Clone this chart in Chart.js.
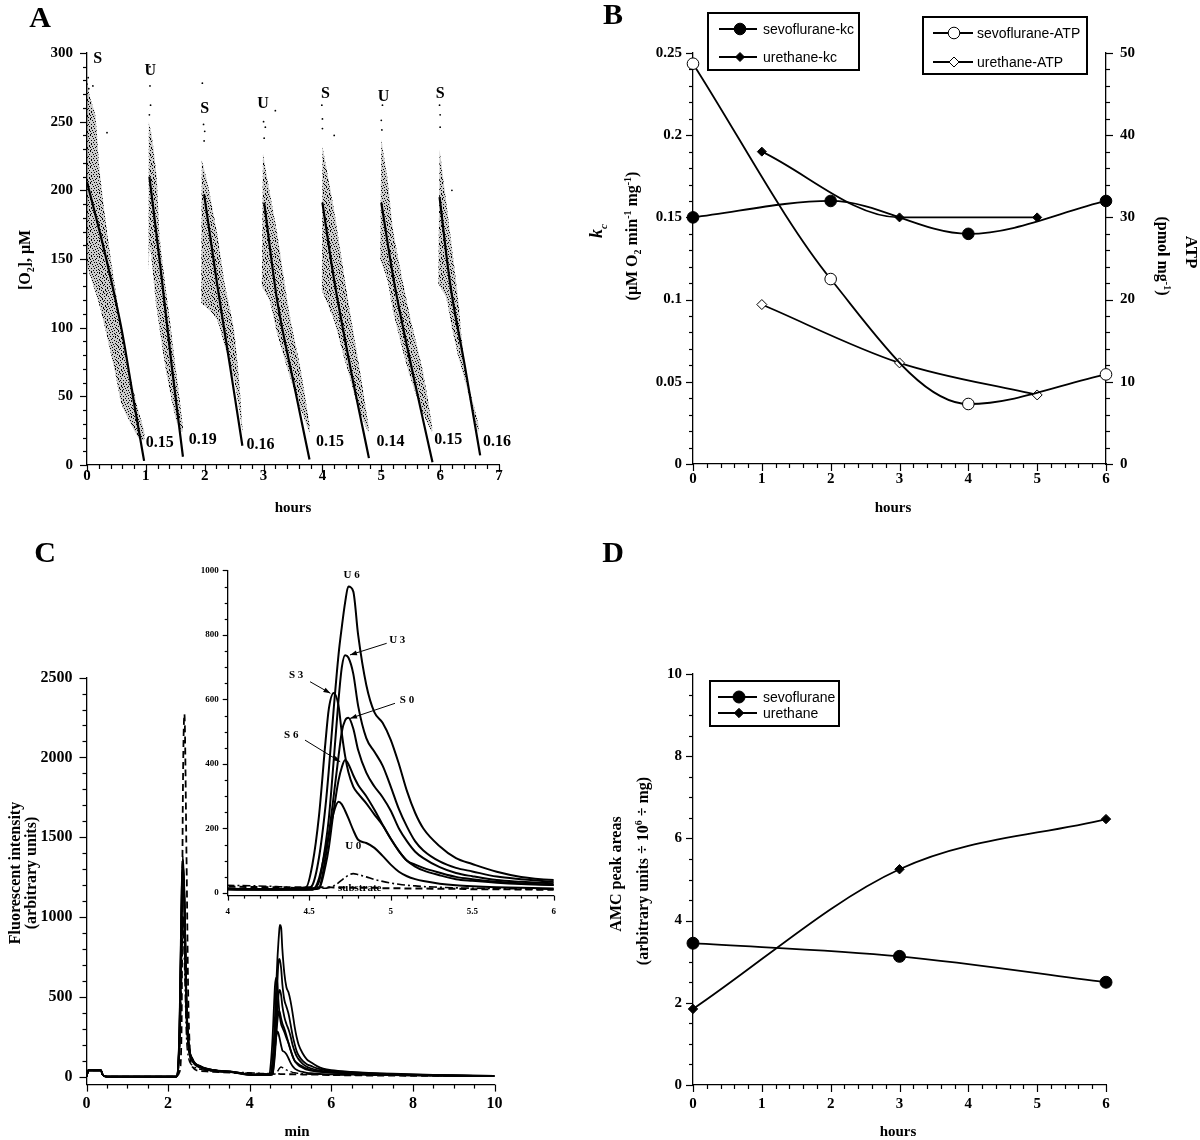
<!DOCTYPE html>
<html>
<head>
<meta charset="utf-8">
<title>Oxygen consumption, ATP and AMC release</title>
<script src="https://cdn.jsdelivr.net/npm/chart.js@4.4.1/dist/chart.umd.min.js"></script>
<style>
  html, body { margin: 0; padding: 0; background: #fff; }
  #page { position: relative; width: 1200px; height: 1140px; overflow: hidden; background: #fff; }
  #page canvas { position: absolute; left: 0; top: 0; }
  .t { position: absolute; white-space: nowrap; font-family: "Liberation Serif", "Times New Roman", serif;
       font-weight: bold; color: #000; line-height: 1; transform: translate(-50%, -50%); }
  .t.up { transform: translate(-50%, -50%) rotate(-90deg); }
  .t.down { transform: translate(-50%, -50%) rotate(90deg); }
  .t sub, .t sup { font-size: 62%; line-height: 0; }
  .letter { font-size: 30px; }
</style>
</head>
<body>
<div id="page">
  <canvas id="chartA" width="1200" height="1140"></canvas>
  <canvas id="chartB" width="1200" height="1140"></canvas>
  <canvas id="chartC" width="1200" height="1140"></canvas>
  <canvas id="chartInset" width="1200" height="1140"></canvas>
  <canvas id="chartD" width="1200" height="1140"></canvas>

  <div class="t letter" style="left:40px;top:17px">A</div>
  <div class="t up" style="left:25px;top:260px;font-size:16px">[O<sub>2</sub>], μM</div>
  <div class="t" style="left:293px;top:507px;font-size:15px">hours</div>

  <div class="t letter" style="left:613px;top:14px">B</div>
  <div class="t up" style="left:596px;top:231px;font-size:18px"><i>k<sub>c</sub></i></div>
  <div class="t up" style="left:632px;top:236px;font-size:16px">(μM O<sub>2</sub> min<sup>-1</sup> mg<sup>-1</sup>)</div>
  <div class="t down" style="left:1191px;top:252px;font-size:17px">ATP</div>
  <div class="t down" style="left:1163px;top:256px;font-size:16px">(pmol mg<sup>-1</sup>)</div>
  <div class="t" style="left:893px;top:507px;font-size:15px">hours</div>

  <div class="t letter" style="left:45px;top:552px">C</div>
  <div class="t up" style="left:15px;top:873px;font-size:16px">Fluorescent intensity</div>
  <div class="t up" style="left:31px;top:873px;font-size:16px">(arbitrary units)</div>
  <div class="t" style="left:297px;top:1131px;font-size:15px">min</div>

  <div class="t letter" style="left:613px;top:552px">D</div>
  <div class="t up" style="left:616px;top:874px;font-size:16px">AMC peak areas</div>
  <div class="t up" style="left:643px;top:871px;font-size:16px">(arbitrary units ÷ 10<sup>6</sup> ÷ mg)</div>
  <div class="t" style="left:898px;top:1131px;font-size:15px">hours</div>
</div>

<script>
// ---------- panel A: O2 traces, one run per hour ----------
const runLetters = ['S', 'U', 'S', 'U', 'S', 'U', 'S'];
const runLetterPos = [[0.18, 296], [1.075, 287], [2.0, 259], [2.99, 263], [4.05, 270], [5.04, 268], [6.0, 270]];
const rateLabels = ['0.15', '0.19', '0.16', '0.15', '0.14', '0.15', '0.16'];
const rateLabelPos = [[1.0, 16], [1.73, 18], [2.71, 15], [3.89, 17], [4.92, 17], [5.9, 18], [6.73, 17]];

const fitLines = [
  [[0, 206], [0.3, 155], [0.6, 96], [0.8, 45], [0.97, 3]],
  [[1.06, 210], [1.245, 145], [1.44, 72], [1.63, 6]],
  [[1.99, 197], [2.21, 132], [2.43, 72], [2.64, 14]],
  [[3.01, 191], [3.23, 120], [3.51, 60], [3.78, 4]],
  [[4.0, 191], [4.19, 137], [4.47, 72], [4.79, 5]],
  [[5.0, 191], [5.21, 135], [5.55, 64], [5.87, 2]],
  [[5.99, 195], [6.17, 132], [6.42, 72], [6.68, 7]]
];
const cloudTop = [
  [[0, 280], [0.05, 268], [0.14, 255], [0.22, 212], [0.36, 164], [0.53, 115], [0.73, 67], [0.84, 45], [0.97, 25]],
  [[1.05, 250], [1.1, 240], [1.18, 212], [1.24, 164], [1.38, 115], [1.52, 67], [1.63, 28]],
  [[1.95, 222], [2.05, 205], [2.21, 169], [2.35, 130], [2.49, 101], [2.58, 65], [2.64, 28]],
  [[2.99, 227], [3.1, 200], [3.23, 169], [3.45, 108], [3.62, 72], [3.78, 30]],
  [[4.0, 232], [4.19, 188], [4.41, 127], [4.61, 76], [4.78, 30]],
  [[5.0, 237], [5.1, 210], [5.21, 169], [5.49, 108], [5.69, 72], [5.86, 30]],
  [[5.99, 230], [6.08, 200], [6.17, 169], [6.31, 120], [6.36, 95], [6.45, 64], [6.65, 30]]
];
const cloudBottom = [
  [[0, 145], [0.22, 115], [0.48, 67], [0.59, 44], [0.87, 20], [0.97, 18]],
  [[1.045, 140], [1.07, 160], [1.18, 115], [1.35, 67], [1.52, 32], [1.62, 24]],
  [[1.94, 118], [2.1, 112], [2.21, 106], [2.35, 85], [2.49, 64], [2.58, 42], [2.64, 24]],
  [[2.97, 130], [3.1, 120], [3.23, 96], [3.45, 64], [3.62, 42], [3.78, 24]],
  [[3.99, 127], [4.19, 106], [4.41, 72], [4.61, 42], [4.78, 24]],
  [[4.98, 150], [5.1, 135], [5.21, 110], [5.49, 64], [5.69, 40], [5.86, 24]],
  [[5.97, 132], [6.1, 122], [6.2, 100], [6.31, 79], [6.45, 57], [6.65, 24]]
];
const strayPoints = [
  [0.02, 282], [0.03, 274], [0.1, 276], [0.34, 242], [1.07, 290], [1.07, 276], [1.08, 262], [1.06, 255],
  [1.96, 278], [1.98, 248], [2.0, 243], [1.99, 236], [3.0, 250], [3.03, 246], [3.2, 258], [3.01, 238],
  [3.99, 262], [4.0, 252], [4.2, 240], [4.0, 245], [5.0, 251], [5.02, 262], [5.01, 244],
  [5.99, 262], [6.0, 255], [6.2, 200], [6.0, 246]
];

// ---------- panel B: kc and ATP ----------
const sevoKcHours = [0, 2, 4, 6];
const sevoKc = [0.15, 0.16, 0.14, 0.16];
const urethKcHours = [1, 3, 5];
const urethKc = [0.19, 0.15, 0.15];
const sevoAtpHours = [0, 2, 4, 6];
const sevoAtp = [48.7, 22.5, 7.3, 10.9];
const urethAtpHours = [1, 3, 5];
const urethAtp = [19.4, 12.3, 8.4];

// ---------- panel C: HPLC fluorescence traces ----------
const minutes = [0, 0.05, 0.35, 0.4, 0.5, 2.2, 2.28, 2.33, 2.36, 2.4, 2.45, 2.5, 2.6, 2.8, 3.1, 3.6, 4.0, 4.3,
  4.48, 4.52, 4.56, 4.6, 4.62, 4.65, 4.68, 4.7, 4.72, 4.74, 4.77, 4.8, 4.85, 4.9, 4.95, 5.0, 5.05, 5.1, 5.15, 5.2, 5.3, 5.4, 5.5, 5.65, 5.8, 6.0,
  6.5, 7.5, 8.5, 10];
const traceS0 = [0, 40, 40, 10, 0, 0, 300, 1100, 1380, 1150, 480, 220, 110, 65, 42, 30, 14, 12,
  12, 12, 16, 110, 180, 300, 425, 500, 535, 543, 510, 443, 373, 330, 297, 255, 200, 160, 128, 108, 80, 62, 52, 40, 35, 30,
  23, 14, 8, 4];
const traceS3 = [0, 40, 40, 10, 0, 0, 320, 1150, 1360, 1100, 450, 210, 105, 62, 40, 28, 13, 12,
  18, 90, 240, 470, 570, 620, 580, 495, 425, 375, 330, 308, 278, 243, 210, 168, 130, 100, 88, 78, 63, 50, 43, 35, 30, 25,
  20, 13, 8, 4];
const traceS6 = [0, 40, 40, 10, 0, 0, 250, 950, 1300, 1050, 420, 200, 100, 60, 38, 27, 12, 11,
  12, 12, 14, 85, 140, 255, 350, 390, 412, 400, 365, 335, 300, 258, 212, 168, 130, 100, 82, 70, 55, 43, 38, 32, 28, 25,
  20, 13, 8, 4];
const traceU0 = [0, 40, 40, 10, 0, 0, 200, 800, 1000, 900, 380, 180, 95, 55, 36, 26, 11, 10,
  10, 10, 45, 135, 180, 250, 283, 275, 255, 232, 195, 165, 155, 140, 115, 88, 66, 52, 43, 37, 29, 24, 21, 18, 16, 14,
  12, 9, 6, 3];
const traceU3 = [0, 40, 40, 10, 0, 0, 280, 1050, 1340, 1120, 460, 215, 108, 64, 41, 29, 13, 12,
  12, 14, 35, 150, 230, 410, 600, 700, 737, 730, 680, 580, 480, 438, 395, 330, 260, 205, 160, 132, 98, 78, 67, 51, 43, 35,
  26, 16, 9, 4];
const traceU6 = [0, 40, 40, 10, 0, 0, 260, 1000, 1250, 1080, 440, 205, 102, 62, 40, 28, 13, 12,
  12, 25, 110, 270, 380, 570, 740, 825, 900, 950, 935, 800, 645, 560, 528, 475, 400, 315, 248, 200, 145, 108, 90, 66, 50, 40,
  30, 18, 10, 4];
const traceSubstrate = [0, 40, 40, 10, 0, 0, 150, 600, 950, 700, 250, 120, 70, 45, 35, 28, 24, 20,
  15, 15, 15, 15, 17, 22, 32, 40, 48, 55, 60, 57, 50, 42, 36, 31, 27, 24, 22, 20, 18, 16, 15, 14, 13, 12,
  10, 8, 6, 4];
const traceBlank = [0, 40, 40, 10, 0, 0, 30, 300, 1700, 2270, 1400, 420, 60, 35, 30, 24, 20, 18,
  18, 18, 18, 18, 18, 17, 17, 17, 17, 16, 16, 16, 16, 16, 15, 15, 15, 14, 14, 14, 13, 13, 12, 12, 11, 10,
  8, 6, 5, 4];
const insetLabels = ['U 6', 'U 3', 'S 3', 'S 0', 'S 6', 'U 0', 'substrate'];
const insetLabelPos = [[4.76, 985], [5.04, 784], [4.42, 676], [5.1, 598], [4.39, 490], [4.77, 144], [4.81, 14]];
const insetArrows = [
  [[4.975, 774], [4.75, 738]],
  [[4.505, 655], [4.63, 619]],
  [[5.026, 588], [4.75, 541]],
  [[4.474, 474], [4.69, 407]]
];

// ---------- panel D: AMC peak areas ----------
const amcHours = [0, 3, 6];
const sevoAmc = [3.45, 3.13, 2.5];
const urethAmc = [1.85, 5.25, 6.47];

// ---------- helpers ----------
const SERIF = '"Liberation Serif", "Times New Roman", serif';
const SANS = '"Liberation Sans", Arial, sans-serif';

Chart.defaults.animation = false;
Chart.defaults.responsive = false;
Chart.defaults.events = [];
Chart.defaults.color = '#000';
Chart.defaults.font.family = SERIF;
Chart.defaults.plugins.legend.display = false;
Chart.defaults.plugins.tooltip.enabled = false;

function pts(xs, ys) { return xs.map((x, i) => ({x: x, y: ys[i]})); }
function pairs(list) { return list.map(p => ({x: p[0], y: p[1]})); }

function linAxis(o) {
  return {
    type: 'linear',
    position: o.position,
    min: o.min,
    max: o.max,
    afterFit: s => { if (s.isHorizontal()) s.height = o.size; else s.width = o.size; },
    // labelled ticks only at the major steps inside [min, max]
    afterBuildTicks: s => {
      const list = [];
      const k0 = Math.ceil(o.min / o.step - 1e-9), k1 = Math.floor(o.max / o.step + 1e-9);
      for (let k = k0; k <= k1; k++) list.push({value: Math.round(k * o.step * 1e6) / 1e6});
      s.ticks = list;
    },
    border: {display: true, color: '#000', width: 1.3},
    grid: {display: true, drawOnChartArea: false, drawTicks: true, tickLength: o.tl, tickColor: 'rgba(0,0,0,0)'},
    ticks: {
      autoSkip: false, maxRotation: 0, minRotation: 0,
      padding: o.pad, color: '#000', font: {family: SERIF, size: o.font, weight: 'bold'},
      callback: v => String(v)
    }
  };
}

// padding that puts the plot area at fixed page coordinates
function place(left, top, right, bottom, yW, xH, y2W) {
  return {left: left - yW, top: top, right: 1200 - right - (y2W || 0), bottom: 1140 - bottom - xH};
}

function drawMarker(ctx, style, r, x, y, fill, bw) {
  ctx.beginPath();
  if (style === 'circle') {
    ctx.arc(x, y, r, 0, Math.PI * 2);
  } else {
    ctx.moveTo(x - r, y); ctx.lineTo(x, y - r); ctx.lineTo(x + r, y); ctx.lineTo(x, y + r); ctx.closePath();
  }
  ctx.fillStyle = fill;
  ctx.fill();
  if (bw) { ctx.lineWidth = bw; ctx.strokeStyle = '#000'; ctx.stroke(); }
}

// minor/major tick marks, legends, labels and arrows
function extras(cfg) {
  return {
    id: 'extras',
    afterDraw(chart) {
      const ctx = chart.ctx, area = chart.chartArea;
      ctx.save();
      ctx.strokeStyle = '#000';
      (cfg.ticks || []).forEach(t => {
        const s = chart.scales[t.axis];
        ctx.lineWidth = 1.2;
        const k0 = Math.ceil(s.min / t.minor - 1e-6), k1 = Math.floor(s.max / t.minor + 1e-6);
        for (let k = k0; k <= k1; k++) {
          const v = k * t.minor;
          const major = Math.abs(v / t.major - Math.round(v / t.major)) < 1e-6;
          const len = major ? t.len[0] : t.len[1];
          const p = Math.round(s.getPixelForValue(v)) + 0.5;
          ctx.beginPath();
          if (t.side === 'bottom') { ctx.moveTo(p, area.bottom); ctx.lineTo(p, area.bottom + len); }
          else if (t.side === 'left') { ctx.moveTo(area.left, p); ctx.lineTo(area.left - len, p); }
          else { ctx.moveTo(area.right, p); ctx.lineTo(area.right + len, p); }
          ctx.stroke();
        }
      });

      (cfg.legends || []).forEach(lg => {
        ctx.lineWidth = 2;
        ctx.strokeStyle = '#000';
        ctx.strokeRect(lg.box[0], lg.box[1], lg.box[2] - lg.box[0], lg.box[3] - lg.box[1]);
        lg.rows.forEach(row => {
          const ds = chart.data.datasets[row[0]], y = row[1];
          ctx.lineWidth = ds.borderWidth;
          ctx.strokeStyle = '#000';
          ctx.beginPath(); ctx.moveTo(lg.x1, y); ctx.lineTo(lg.x2, y); ctx.stroke();
          drawMarker(ctx, ds.pointStyle, ds.pointRadius, lg.mx, y, ds.pointBackgroundColor, ds.pointBorderWidth);
          ctx.font = lg.font;
          ctx.fillStyle = '#000';
          ctx.textAlign = 'left';
          ctx.textBaseline = 'middle';
          ctx.fillText(ds.label, lg.tx, y + 1);
        });
      });

      const xs = chart.scales.x, ys = chart.scales.y;
      (cfg.arrows || []).forEach(a => {
        const x0 = xs.getPixelForValue(a[0][0]), y0 = ys.getPixelForValue(a[0][1]);
        const x1 = xs.getPixelForValue(a[1][0]), y1 = ys.getPixelForValue(a[1][1]);
        const ang = Math.atan2(y1 - y0, x1 - x0);
        ctx.lineWidth = 1;
        ctx.strokeStyle = '#000';
        ctx.beginPath(); ctx.moveTo(x0, y0); ctx.lineTo(x1, y1); ctx.stroke();
        ctx.fillStyle = '#000';
        ctx.beginPath();
        ctx.moveTo(x1, y1);
        ctx.lineTo(x1 - 7 * Math.cos(ang) + 2.5 * Math.sin(ang), y1 - 7 * Math.sin(ang) - 2.5 * Math.cos(ang));
        ctx.lineTo(x1 - 7 * Math.cos(ang) - 2.5 * Math.sin(ang), y1 - 7 * Math.sin(ang) + 2.5 * Math.cos(ang));
        ctx.closePath();
        ctx.fill();
      });

      (cfg.texts || []).forEach(t => {
        ctx.font = t.font;
        ctx.fillStyle = '#000';
        ctx.textAlign = t.align || 'center';
        ctx.textBaseline = 'middle';
        ctx.fillText(t.text, xs.getPixelForValue(t.x), ys.getPixelForValue(t.y));
      });
      ctx.restore();
    }
  };
}

// speckled texture for the dense O2 readings (fixed, hand-placed dots)
const speckRows = [
  [1, 6, 11, 14, 3], [3, 9], [0, 5, 12, 9], [7, 10, 15], [2, 13, 7], [4, 8, 11], [0, 6, 14, 10],
  [3, 10], [1, 8, 12, 4], [5, 15], [2, 9, 13, 6], [0, 6], [4, 11, 14, 8], [7, 2], [9, 13, 0, 3], [5, 11]
];
function speckle(canvas) {
  const tile = document.createElement('canvas');
  tile.width = 16; tile.height = 16;
  const g = tile.getContext('2d');
  g.fillStyle = 'rgba(0,0,0,0.2)';
  g.fillRect(0, 0, 16, 16);
  g.fillStyle = '#000';
  speckRows.forEach((row, y) => row.forEach(x => g.fillRect(x, y, 1, 1)));
  return canvas.getContext('2d').createPattern(tile, 'repeat');
}

// ---------- chart A ----------
const canvasA = document.getElementById('chartA');
const speck = speckle(canvasA);
const aDatasets = [];
fitLines.forEach(line => aDatasets.push({
  data: pairs(line), showLine: true, borderColor: '#000', borderWidth: 2.2,
  pointRadius: 0, cubicInterpolationMode: 'monotone'
}));
aDatasets.push({data: pairs(strayPoints), showLine: false, pointRadius: 0.9, pointBackgroundColor: '#000', pointBorderWidth: 0});
cloudTop.forEach((top, i) => aDatasets.push({
  data: pairs(top.concat(cloudBottom[i].slice().reverse())),
  showLine: true, fill: 'shape', backgroundColor: speck,
  borderColor: 'rgba(0,0,0,0)', borderWidth: 0, pointRadius: 0, tension: 0.2
}));

const aTexts = runLetters.map((s, i) => ({x: runLetterPos[i][0], y: runLetterPos[i][1], text: s, font: 'bold 16px ' + SERIF}))
  .concat(rateLabels.map((s, i) => ({x: rateLabelPos[i][0], y: rateLabelPos[i][1], text: s, font: 'bold 16px ' + SERIF, align: 'left'})));

new Chart(canvasA, {
  type: 'scatter',
  data: {datasets: aDatasets},
  options: {
    layout: {padding: place(87, 53, 499, 465, 60, 40)},
    scales: {
      x: linAxis({position: 'bottom', min: 0, max: 7, step: 1, size: 40, tl: 2, pad: 0, font: 15}),
      y: linAxis({position: 'left', min: 0, max: 300, step: 50, size: 60, tl: 8, pad: 6, font: 15})
    }
  },
  plugins: [extras({
    ticks: [
      {axis: 'x', side: 'bottom', minor: 0.2, major: 1, len: [7, 4]},
      {axis: 'y', side: 'left', minor: 10, major: 50, len: [7, 4]}
    ],
    texts: aTexts
  })]
});

// ---------- chart B ----------
function series(label, data, axis, style, r, fill) {
  return {
    label: label, data: data, yAxisID: axis, showLine: true, clip: false,
    borderColor: '#000', borderWidth: 1.8, cubicInterpolationMode: 'monotone',
    pointStyle: style, pointRadius: r, pointBackgroundColor: fill, pointBorderColor: '#000', pointBorderWidth: 1
  };
}

new Chart(document.getElementById('chartB'), {
  type: 'scatter',
  data: {datasets: [
    series('sevoflurane-kc', pts(sevoKcHours, sevoKc), 'y', 'circle', 5.8, '#000'),
    series('urethane-kc', pts(urethKcHours, urethKc), 'y', 'rectRot', 4.5, '#000'),
    series('sevoflurane-ATP', pts(sevoAtpHours, sevoAtp), 'y2', 'circle', 5.8, '#fff'),
    series('urethane-ATP', pts(urethAtpHours, urethAtp), 'y2', 'rectRot', 5, '#fff')
  ]},
  options: {
    layout: {padding: place(693, 53, 1106, 464, 60, 40, 60)},
    scales: {
      x: linAxis({position: 'bottom', min: 0, max: 6, step: 1, size: 40, tl: 5, pad: 1, font: 15}),
      y: linAxis({position: 'left', min: 0, max: 0.25, step: 0.05, size: 60, tl: 6, pad: 5, font: 15}),
      y2: linAxis({position: 'right', min: 0, max: 50, step: 10, size: 60, tl: 8, pad: 6, font: 15})
    }
  },
  plugins: [extras({
    ticks: [
      {axis: 'x', side: 'bottom', minor: 0.2, major: 1, len: [7, 4]},
      {axis: 'y', side: 'left', minor: 0.01, major: 0.05, len: [7, 4]},
      {axis: 'y2', side: 'right', minor: 2, major: 10, len: [7, 4]}
    ],
    legends: [
      {box: [708, 13, 859, 70], x1: 719, x2: 757, mx: 740, tx: 763, rows: [[0, 29], [1, 57]], font: '14px ' + SANS},
      {box: [923, 17, 1087, 74], x1: 933, x2: 973, mx: 954, tx: 977, rows: [[2, 33], [3, 62]], font: '14px ' + SANS}
    ]
  })]
});

// ---------- chart C (main + inset) ----------
function traceSet(label, values, width, dash) {
  return {
    label: label, data: pts(minutes, values), showLine: true, borderColor: '#000', borderWidth: width,
    borderDash: dash || [], pointRadius: 0, cubicInterpolationMode: 'monotone'
  };
}
function traceSets(w) {
  return [
    traceSet('S 0', traceS0, w), traceSet('S 3', traceS3, w), traceSet('S 6', traceS6, w),
    traceSet('U 0', traceU0, w), traceSet('U 3', traceU3, w), traceSet('U 6', traceU6, w),
    traceSet('blank', traceBlank, w, [7, 4]),
    traceSet('substrate', traceSubstrate, w - 0.4, [8, 3, 2, 3])
  ];
}

new Chart(document.getElementById('chartC'), {
  type: 'scatter',
  data: {datasets: traceSets(1.8)},
  options: {
    layout: {padding: place(86.5, 677.6, 494.5, 1084.6, 60, 40)},
    scales: {
      x: linAxis({position: 'bottom', min: 0, max: 10, step: 2, size: 40, tl: 6, pad: 4, font: 16}),
      y: linAxis({position: 'left', min: -50, max: 2500, step: 500, size: 60, tl: 8, pad: 6, font: 16})
    }
  },
  plugins: [extras({
    ticks: [
      {axis: 'x', side: 'bottom', minor: 0.5, major: 2, len: [7, 4]},
      {axis: 'y', side: 'left', minor: 100, major: 500, len: [7, 4]}
    ]
  })]
});

new Chart(document.getElementById('chartInset'), {
  type: 'scatter',
  data: {datasets: traceSets(2)},
  options: {
    layout: {padding: place(227.7, 570.4, 553.8, 895.6, 40, 30)},
    scales: {
      x: linAxis({position: 'bottom', min: 4, max: 6, step: 0.5, size: 30, tl: 6, pad: 5, font: 9}),
      y: linAxis({position: 'left', min: -8, max: 1000, step: 200, size: 40, tl: 5, pad: 4, font: 9})
    }
  },
  plugins: [extras({
    ticks: [
      {axis: 'x', side: 'bottom', minor: 0.1, major: 0.5, len: [5, 3]},
      {axis: 'y', side: 'left', minor: 50, major: 200, len: [5, 3]}
    ],
    arrows: insetArrows,
    texts: insetLabels.map((s, i) => ({x: insetLabelPos[i][0], y: insetLabelPos[i][1], text: s, font: 'bold 11px ' + SERIF}))
  })]
});

// ---------- chart D ----------
new Chart(document.getElementById('chartD'), {
  type: 'scatter',
  data: {datasets: [
    series('sevoflurane', pts(amcHours, sevoAmc), 'y', 'circle', 6, '#000'),
    series('urethane', pts(amcHours, urethAmc), 'y', 'rectRot', 4.7, '#000')
  ]},
  options: {
    layout: {padding: place(693, 674, 1106, 1085, 60, 40)},
    scales: {
      x: linAxis({position: 'bottom', min: 0, max: 6, step: 1, size: 40, tl: 6, pad: 4, font: 15}),
      y: linAxis({position: 'left', min: 0, max: 10, step: 2, size: 60, tl: 6, pad: 5, font: 15})
    }
  },
  plugins: [extras({
    ticks: [
      {axis: 'x', side: 'bottom', minor: 0.2, major: 1, len: [7, 4]},
      {axis: 'y', side: 'left', minor: 0.5, major: 2, len: [7, 4]}
    ],
    legends: [
      {box: [710, 681, 839, 726], x1: 718, x2: 757, mx: 739, tx: 763, rows: [[0, 697], [1, 713]], font: '14px ' + SANS}
    ]
  })]
});
</script>
</body>
</html>
